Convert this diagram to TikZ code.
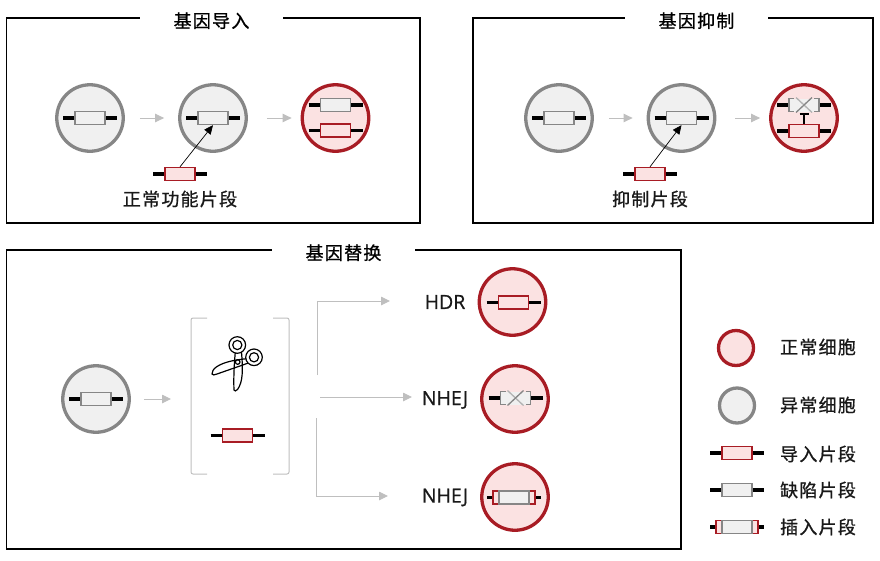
\documentclass[tikz,border=0pt]{standalone}
\usepackage{fontspec}
\setmainfont[FakeBold=0.8]{Open Sans}
\newfontfamily\cjk[LetterSpace=7,FakeBold=0.9]{Noto Sans CJK SC}
\usetikzlibrary{arrows.meta}
\definecolor{cred}{HTML}{A81C24}
\definecolor{cpink}{HTML}{FBE2E2}
\definecolor{cgray}{HTML}{868686}
\definecolor{cpale}{HTML}{F0F0F0}
\definecolor{carrow}{HTML}{BFBFBF}
\tikzset{
  frame/.style={draw=black,line width=1.2pt,fill=none},
  title/.style={fill=white,font=\cjk\fontsize{18}{20}\selectfont,inner ysep=3pt,text depth=0pt},
  label/.style={font=\cjk\fontsize{18}{20}\selectfont,inner sep=0pt,text=black!90},
  latin/.style={font=\fontsize{19.5}{22}\selectfont,inner sep=0pt,text=black!90},
  goodcell/.style={circle,draw=cred,fill=cpink,line width=3.3pt,minimum size=66.5pt,inner sep=0pt},
  badcell/.style={circle,draw=cgray,fill=cpale,line width=3.3pt,minimum size=66.5pt,inner sep=0pt},
  smallgood/.style={goodcell,minimum size=35pt},
  smallbad/.style={badcell,minimum size=35pt},
  goodgene/.style={rectangle,draw=cred,fill=cpink,line width=1.3pt,minimum width=30pt,minimum height=13pt,inner sep=0pt},
  badgene/.style={rectangle,draw=cgray,fill=cpale,line width=1.3pt,minimum width=30pt,minimum height=13pt,inner sep=0pt},
  widegene/.style={goodgene,minimum width=42pt},
  brokenbody/.style={rectangle,fill=cpale,minimum width=30pt,minimum height=13pt,inner sep=0pt},
  lead/.style={line width=3.3pt,black},
  flow/.style={draw=carrow,line width=0.9pt,-{Triangle[length=9pt,width=8.5pt,fill=carrow]}},
  graft/.style={draw=black,line width=0.7pt,-{Triangle[length=9pt,width=8pt]}},
  bracket/.style={draw=black!25,line width=1pt,rounded corners=2pt},
  crossing/.style={draw=cgray,line width=1.3pt},
}
% \gene{name}{x}{y}{style}: a gene box with its two black leads
\newcommand{\gene}[4]{%
  \draw[lead] (#2-27,#3) -- (#2+27,#3);
  \node[#4] (#1) at (#2,#3) {};}
% \brokengene{name}{x}{y}
\newcommand{\brokengene}[3]{%
  \draw[lead] (#2-27,#3) -- (#2+27,#3);
  \node[brokenbody] (#1) at (#2,#3) {};
  \draw[crossing] (#2-10,#3-6.5) -- (#2-15,#3-6.5) -- (#2-15,#3+6.5) -- (#2-10,#3+6.5);
  \draw[crossing] (#2+10,#3-6.5) -- (#2+15,#3-6.5) -- (#2+15,#3+6.5) -- (#2+10,#3+6.5);
  \draw[crossing,black!30] (#2-8,#3-7.5) -- (#2+8,#3+7.5);
  \draw[crossing] (#2+8,#3-7.5) -- (#2-8,#3+7.5);}
% \insgene{name}{x}{y}
\newcommand{\insgene}[3]{%
  \draw[lead] (#2-27,#3) -- (#2+27,#3);
  \node[widegene] (#1w) at (#2,#3) {};
  \node[badgene] (#1) at (#2,#3) {};}
\begin{document}
\begin{tikzpicture}[x=1pt,y=-1pt]
\useasboundingbox (0,0) rectangle (880,560);
% frames
\draw[frame] (6.5,18) rectangle (420,223);
\draw[frame] (473,18) rectangle (873,223);
\draw[frame] (6.5,250) rectangle (681,549);
\node[title,minimum width=143pt] (t1) at (211.5,20) {基因导入};
\node[title,minimum width=143pt] (t2) at (696.5,20) {基因抑制};
\node[title,minimum width=143pt] (t3) at (343.5,252) {基因替换};
% panel 1
\node[badcell] (a1) at (90,118) {};
\node[badcell] (a2) at (213,118) {};
\node[goodcell] (a3) at (335.5,118) {};
\gene{ag1}{90}{118}{badgene}
\gene{ag2}{213}{118}{badgene}
\gene{ag3}{335.5}{105}{badgene}
\gene{ag4}{335.5}{130.5}{goodgene}
\draw[flow,shorten <=15pt,shorten >=14pt] (a1) -- (a2);
\draw[flow,shorten <=19pt,shorten >=9pt] (a2) -- (a3);
\gene{ag5}{180}{174}{goodgene}
\draw[graft] (ag5.north) -- (ag2.south);
\node[label] (l1) at (180,199) {正常功能片段};
% panel 2
\node[badcell] (b1) at (559,118) {};
\node[badcell] (b2) at (681.5,118) {};
\node[goodcell] (b3) at (804,118) {};
\gene{bg1}{559}{118}{badgene}
\gene{bg2}{681.5}{118}{badgene}
\gene{bg5}{650}{174}{goodgene}
\brokengene{bg3}{804}{105}
\gene{bg4}{804}{131}{goodgene}
\draw[flow,shorten <=15pt,shorten >=14pt] (b1) -- (b2);
\draw[flow,shorten <=19pt,shorten >=9pt] (b2) -- (b3);
\draw[graft] (bg5.north) -- (bg2.south);
\node[label] (l2) at (650,199) {抑制片段};
\draw[line width=2.4pt,black] (bg4.north) -- (804,114) (799.5,114) -- (808.5,114);
% panel 3
\node[badcell] (c1) at (96,399) {};
\gene{cg1}{96}{399}{badgene}
\coordinate (bin) at (171,399);
\draw[flow,shorten <=13pt] (c1) -- (bin);
% brackets
\draw[bracket] (207,318) -- (191,318) -- (191,474) -- (207,474);
\draw[bracket] (273,318) -- (289,318) -- (289,474) -- (273,474);
% scissors
\begin{scope}[line width=1.2pt,black]
\draw[fill=white] (235.5,350) .. controls (234,365) and (233.5,380) .. (234,390) .. controls (234.5,391.5) and (236,391) .. (237.5,389.5) .. controls (243,382) and (243,370) .. (241.5,352) -- cycle;
\draw (248,358.5) .. controls (235,360) and (225,361.5) .. (217,366.5) .. controls (213,369) and (212,372) .. (212,374) .. controls (213,375.5) and (214,375) .. (217,374) -- (237,367) .. controls (243,365) and (248,363) .. (250,362.5);
\draw[fill=white] (237.3,345) circle (8.3pt);
\draw (237.3,345) circle (4.6pt);
\draw[fill=white] (254,357.3) circle (8.3pt);
\draw (254,357.3) circle (4.6pt);
\draw (237.7,362) circle (2.3pt);
\end{scope}
\gene{cg2}{237.5}{435.5}{goodgene}
% branches
\coordinate (u1) at (317,375);
\coordinate (u2) at (317,301);
\coordinate (u3) at (390,301);
\coordinate (m1) at (320,397);
\coordinate (m2) at (412,397);
\coordinate (d1) at (316,418);
\coordinate (d2) at (316,496);
\coordinate (d3) at (388,496);
\draw[flow] (u1) -- (u2) -- (u3);
\draw[flow] (m1) -- (m2);
\draw[flow] (d1) -- (d2) -- (d3);
\node[latin] (h1) at (445,302) {HDR};
\node[latin] (h2) at (445,400) {NHEJ};
\node[latin] (h3) at (445,497.5) {NHEJ};
\node[goodcell] (r1) at (512.5,302) {};
\node[goodcell] (r2) at (515,399) {};
\node[goodcell] (r3) at (515,497) {};
\gene{rg1}{513.5}{302.5}{goodgene}
\brokengene{rg2}{515.5}{398}
\insgene{rg3}{514}{497.5}
% legend
\node[smallgood] (k1) at (736,348) {};
\node[smallbad] (k2) at (737,405.5) {};
\gene{kg1}{737}{453}{goodgene}
\gene{kg2}{737}{490}{badgene}
\insgene{kg3}{737}{527}
\node[label] (q1) at (818,347) {正常细胞};
\node[label] (q2) at (818,405) {异常细胞};
\node[label] (q3) at (818,454) {导入片段};
\node[label] (q4) at (818,490) {缺陷片段};
\node[label] (q5) at (818,527) {插入片段};
\end{tikzpicture}
\end{document}
